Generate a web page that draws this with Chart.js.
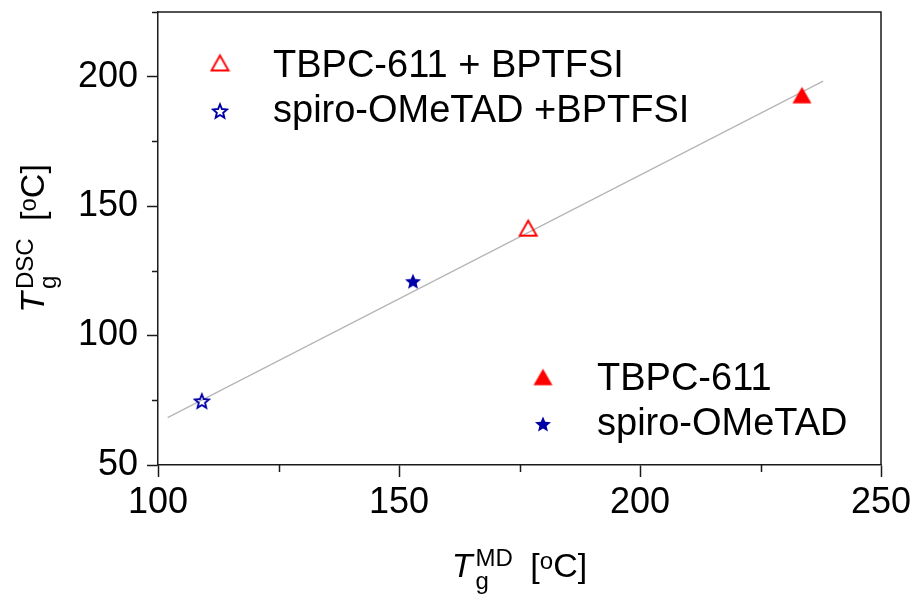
<!DOCTYPE html>
<html>
<head>
<meta charset="utf-8">
<title>Tg DSC vs MD</title>
<script src="https://cdn.jsdelivr.net/npm/chart.js@4.4.1/dist/chart.umd.min.js"></script>
<style>
  html, body { margin: 0; padding: 0; background: #fff; }
  #wrap { width: 915px; height: 603px; }
</style>
</head>
<body>
<div id="wrap"><canvas id="tgChart" width="915" height="603"></canvas></div>
<script>
// Glass transition temperatures: simulated (MD) vs measured (DSC)
const seriesNames = ["TBPC-611 + BPTFSI", "spiro-OMeTAD +BPTFSI", "TBPC-611", "spiro-OMeTAD"];
const tgMD  = [176.8, 109.1, 233.6, 152.9];
const tgDSC = [141.5, 74.7, 192.9, 121.0];
const seriesColors = ["#ff0000", "#0000a8", "#ff0000", "#0000a8"];
const seriesShapes = ["triangle", "star", "triangle", "star"];
const seriesFilled = [false, false, true, true];

// linear fit through all four points
const fitX = [102, 238];
const fitY = [68.3, 198.3];

// axis ticks
const xTicks = [100, 150, 200, 250];
const yTicks = [50, 100, 150, 200];
const xMinor = [125, 175, 225];
const yMinor = [75, 125, 175, 225];

const FONT = "'Liberation Sans', Arial, sans-serif";
const AXIS = "#1a1a1a";

// marker images (Chart.js has no 5-point star)
function makeMarker(shape, color, filled, size) {
    let c = document.createElement("canvas");
    c.width = c.height = Math.ceil(size + 4);
    let g = c.getContext("2d");
    let cx = c.width / 2, cy = c.height / 2;
    g.beginPath();
    if (shape === "triangle") {
        let h = size * 0.88;
        g.moveTo(cx, cy - h / 2);
        g.lineTo(cx + size / 2, cy + h / 2);
        g.lineTo(cx - size / 2, cy + h / 2);
        g.closePath();
    } else {
        let R = size / 1.9, r = R * 0.45;
        let shift = R * 0.095;
        for (let i = 0; i < 10; i++) {
            let a = -Math.PI / 2 + i * Math.PI / 5;
            let rad = i % 2 ? r : R;
            let px = cx + Math.cos(a) * rad, py = cy + shift + Math.sin(a) * rad;
            if (i === 0) g.moveTo(px, py); else g.lineTo(px, py);
        }
        g.closePath();
    }
    if (filled) {
        g.fillStyle = color;
        g.fill();
    } else {
        g.strokeStyle = color;
        g.lineWidth = 1.9;
        g.lineJoin = "miter";
        g.stroke();
    }
    return c;
}

const markerSizes = { triangle: [17, 19], star: [14, 16] };
const markers = seriesNames.map((n, i) =>
    makeMarker(seriesShapes[i], seriesColors[i], seriesFilled[i],
               markerSizes[seriesShapes[i]][seriesFilled[i] ? 1 : 0]));

// text with sub/superscripts, centred on cx
function drawRich(ctx, parts, cx, baseY) {
    let w = 0;
    parts.forEach(p => {
        if (p.gap) { w += p.gap; return; }
        ctx.font = p.font;
        p.w = ctx.measureText(p.text).width;
        if (!p.stack) w += p.w;
    });
    let x = cx - w / 2;
    parts.forEach(p => {
        if (p.gap) { x += p.gap; return; }
        ctx.font = p.font;
        ctx.fillText(p.text, x, baseY + (p.dy || 0));
        if (!p.stack) x += p.w;
    });
}

function titleParts(sup) {
    const main = "34px " + FONT, small = "24px " + FONT;
    return [
        { text: "T", font: "italic 34px " + FONT },
        { gap: 3 },
        { text: "g", font: small, dy: 12, stack: true },
        { text: sup, font: small, dy: -11 },
        { gap: 8 },
        { text: " [", font: main },
        { text: "o", font: small, dy: -8 },
        { text: "C]", font: main }
    ];
}

// legend groups: [series index, marker x, marker y, text x, text baseline]
const legendRows = [
    [0, 220, 63, 273, 77],
    [1, 220, 111, 273, 122],
    [2, 543, 377, 597, 390],
    [3, 543, 424, 597, 435]
];

const decorations = {
    id: "decorations",
    afterDraw(chart) {
        const ctx = chart.ctx;
        const a = chart.chartArea;
        const xs = chart.scales.x, ys = chart.scales.y;
        ctx.save();

        // closing frame on top and right
        ctx.strokeStyle = AXIS;
        ctx.lineWidth = 1.5;
        ctx.beginPath();
        ctx.moveTo(a.left, a.top);
        ctx.lineTo(a.right, a.top);
        ctx.lineTo(a.right, a.bottom);
        ctx.stroke();

        // minor ticks
        ctx.beginPath();
        xMinor.forEach(v => {
            let px = Math.round(xs.getPixelForValue(v)) + 0.5;
            ctx.moveTo(px, a.bottom);
            ctx.lineTo(px, a.bottom + 7);
        });
        yMinor.forEach(v => {
            let py = Math.round(ys.getPixelForValue(v)) + 0.5;
            ctx.moveTo(a.left - 6, py);
            ctx.lineTo(a.left, py);
        });
        ctx.stroke();

        // axis titles
        ctx.fillStyle = "#000";
        ctx.textBaseline = "alphabetic";
        ctx.textAlign = "left";
        drawRich(ctx, titleParts("MD"), (a.left + a.right) / 2, 577);

        ctx.save();
        ctx.translate(44, (a.top + a.bottom) / 2);
        ctx.rotate(-Math.PI / 2);
        drawRich(ctx, titleParts("DSC"), 0, 0);
        ctx.restore();

        // legends
        ctx.font = "38px " + FONT;
        legendRows.forEach(r => {
            let m = markers[r[0]];
            ctx.drawImage(m, r[1] - m.width / 2, r[2] - m.height / 2);
            ctx.fillText(seriesNames[r[0]], r[3], r[4]);
        });
        ctx.restore();
    }
};

const datasets = seriesNames.map((name, i) => ({
    label: name,
    data: [{ x: tgMD[i], y: tgDSC[i] }],
    pointStyle: markers[i],
    pointRadius: 9,
    showLine: false,
    order: 0
}));

datasets.push({
    label: "fit",
    data: fitX.map((x, i) => ({ x: x, y: fitY[i] })),
    showLine: true,
    borderColor: "#b5b5b5",
    borderWidth: 1.2,
    pointRadius: 0,
    order: 10
});

const tickFont = { family: FONT, size: 36 };

new Chart(document.getElementById("tgChart").getContext("2d"), {
    type: "scatter",
    data: { datasets: datasets },
    options: {
        responsive: false,
        animation: false,
        layout: { padding: { left: 0, top: 12, right: 34, bottom: 0 } },
        plugins: {
            legend: { display: false },
            tooltip: { enabled: false }
        },
        scales: {
            x: {
                type: "linear",
                min: 100,
                max: 250,
                afterBuildTicks: axis => { axis.ticks = xTicks.map(v => ({ value: v })); },
                afterFit: axis => {
                    axis.height = 138;
                    axis.paddingLeft = 0;
                    axis.paddingRight = 0;
                },
                ticks: { font: tickFont, color: "#000", padding: 4, maxRotation: 0, autoSkip: false },
                grid: { drawOnChartArea: false, tickLength: 12, tickColor: AXIS, tickWidth: 1.5 },
                border: { color: AXIS, width: 1.5 }
            },
            y: {
                type: "linear",
                min: 50,
                max: 225,
                afterBuildTicks: axis => { axis.ticks = yTicks.map(v => ({ value: v })); },
                afterFit: axis => {
                    axis.width = 158;
                    axis.paddingTop = 0;
                    axis.paddingBottom = 0;
                },
                ticks: { font: tickFont, color: "#000", padding: 9 },
                grid: { drawOnChartArea: false, tickLength: 11, tickColor: AXIS, tickWidth: 1.5 },
                border: { color: AXIS, width: 1.5 }
            }
        }
    },
    plugins: [decorations]
});
</script>
</body>
</html>
